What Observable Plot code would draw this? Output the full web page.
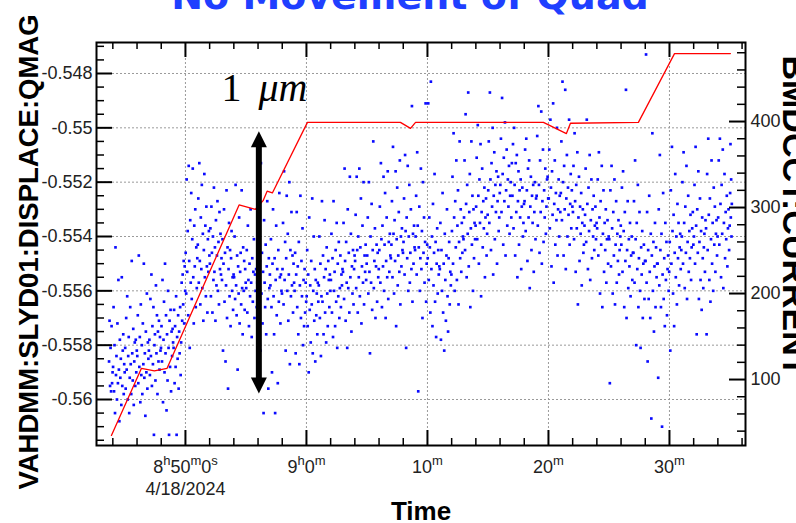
<!DOCTYPE html>
<html><head><meta charset="utf-8">
<script src="https://cdn.jsdelivr.net/npm/d3@7"></script>
<script src="https://cdn.jsdelivr.net/npm/@observablehq/plot@0.6"></script>
<style>
body{margin:0;background:#fff;}
#chart{position:relative;width:796px;height:523px;overflow:hidden;background:#fff;}
</style></head><body><div id="chart"></div>
<script>
// ---------- data ----------
const day = "2024-04-18";
const chartTitle = "No Movement of Quad";
const leftLabel = "VAHDMM:SLYD01:DISPLACE:QMAG";
const rightLabel = "BMDCCT:CURRENT";
const xLabel = "Time";
const dateLabel = "4/18/2024";
const timeDomain = ["08:42:39", "09:36:17"];
const qmagDomain = [-0.561693, -0.546859];
const currentDomain = [23.3, 491.9];
const qmagTicks = [-0.56, -0.558, -0.556, -0.554, -0.552, -0.55, -0.548];
const currentTicks = [100, 200, 300, 400];
const timeTickTimes = ["08:50:00", "09:00:00", "09:10:00", "09:20:00", "09:30:00"];
const timeTickLabels = ["8h50m0s", "9h0m", "10m", "20m", "30m"];

// BMDCCT:CURRENT (right axis), red line
const currentTimes = ["08:43:53","08:46:22","08:47:26","08:48:29","08:54:26","08:55:47","08:56:25","08:56:45","08:57:11","09:00:05","09:07:46","09:08:36","09:09:01","09:19:35","09:21:29","09:21:49","09:27:26","09:30:25","09:35:02"];
const currentValues = [35,113,110,113,303,298,308,319,317,399,399,392,399,399,386,398,399,479,479];

// VAHDMM:SLYD01:DISPLACE:QMAG samples, one list per minute starting 08:43
const scatterStart = "08:43:40", scatterEnd = "09:35:10", firstMinute = "08:43:00";
const qmagByMinute = [
[-0.5586,-0.5571,-0.5595,-0.5581,-0.5597,-0.5573,-0.5594,-0.5590],
[-0.5588,-0.5566,-0.5597,-0.5580,-0.5605,-0.5544,-0.5591,-0.5584,-0.5600,-0.5572,-0.5594,-0.5556,-0.5589,-0.5608,-0.5578,-0.5592,-0.5585,-0.5602,-0.5555,-0.5595,-0.5582,-0.5576,-0.5598,-0.5587,-0.5590],
[-0.5581,-0.5596,-0.5570,-0.5589,-0.5562,-0.5600,-0.5584,-0.5577,-0.5605,-0.5592,-0.5566,-0.5587,-0.5598,-0.5549,-0.5583,-0.5593,-0.5574,-0.5602,-0.5586,-0.5579,-0.5595,-0.5578,-0.5590,-0.5582],
[-0.5584,-0.5569,-0.5594,-0.5547,-0.5588,-0.5577,-0.5601,-0.5565,-0.5591,-0.5580,-0.5598,-0.5572,-0.5587,-0.5550,-0.5592,-0.5583,-0.5606,-0.5575,-0.5590,-0.5561,-0.5596,-0.5579,-0.5585,-0.5582],
[-0.5578,-0.5591,-0.5563,-0.5584,-0.5554,-0.5595,-0.5573,-0.5587,-0.5566,-0.5613,-0.5580,-0.5576,-0.5593,-0.5558,-0.5583,-0.5569,-0.5598,-0.5575,-0.5586,-0.5571,-0.5589,-0.5577,-0.5582,-0.5581],
[-0.5573,-0.5586,-0.5556,-0.5601,-0.5578,-0.5564,-0.5590,-0.5550,-0.5583,-0.5569,-0.5604,-0.5576,-0.5593,-0.5560,-0.5581,-0.5613,-0.5571,-0.5588,-0.5567,-0.5597,-0.5575,-0.5584,-0.5574,-0.5579],
[-0.5581,-0.5567,-0.5594,-0.5573,-0.5588,-0.5562,-0.5613,-0.5577,-0.5585,-0.5569,-0.5596,-0.5575,-0.5583,-0.5566,-0.5591,-0.5579,-0.5557,-0.5571,-0.5554,-0.5565,-0.5549,-0.5572,-0.5551,-0.5560],
[-0.5546,-0.5561,-0.5519,-0.5553,-0.5538,-0.5569,-0.5514,-0.5549,-0.5581,-0.5534,-0.5557,-0.5524,-0.5563,-0.5541,-0.5515,-0.5555,-0.5572,-0.5536,-0.5551,-0.5530,-0.5566,-0.5544,-0.5559,-0.5548],
[-0.5543,-0.5526,-0.5557,-0.5513,-0.5549,-0.5565,-0.5533,-0.5552,-0.5521,-0.5559,-0.5539,-0.5571,-0.5545,-0.5517,-0.5555,-0.5536,-0.5562,-0.5529,-0.5551,-0.5568,-0.5541,-0.5553,-0.5538,-0.5547],
[-0.5550,-0.5537,-0.5562,-0.5529,-0.5546,-0.5568,-0.5540,-0.5556,-0.5522,-0.5553,-0.5544,-0.5571,-0.5534,-0.5558,-0.5547,-0.5527,-0.5560,-0.5542,-0.5565,-0.5531,-0.5552,-0.5539,-0.5554,-0.5548],
[-0.5556,-0.5541,-0.5582,-0.5550,-0.5530,-0.5564,-0.5546,-0.5586,-0.5558,-0.5523,-0.5570,-0.5544,-0.5596,-0.5552,-0.5535,-0.5562,-0.5545,-0.5573,-0.5548,-0.5538,-0.5560,-0.5555,-0.5567,-0.5554],
[-0.5555,-0.5540,-0.5563,-0.5521,-0.5558,-0.5569,-0.5547,-0.5589,-0.5551,-0.5561,-0.5533,-0.5572,-0.5553,-0.5546,-0.5565,-0.5523,-0.5559,-0.5576,-0.5544,-0.5560,-0.5549,-0.5567,-0.5552,-0.5557],
[-0.5559,-0.5545,-0.5568,-0.5536,-0.5556,-0.5573,-0.5550,-0.5562,-0.5530,-0.5557,-0.5577,-0.5548,-0.5564,-0.5553,-0.5541,-0.5570,-0.5554,-0.5560,-0.5552,-0.5566,-0.5557,-0.5563],
[-0.5555,-0.5539,-0.5569,-0.5549,-0.5582,-0.5513,-0.5561,-0.5546,-0.5572,-0.5553,-0.5605,-0.5534,-0.5557,-0.5566,-0.5543,-0.5576,-0.5551,-0.5527,-0.5563,-0.5596,-0.5548,-0.5559,-0.5554],
[-0.5558,-0.5541,-0.5566,-0.5590,-0.5550,-0.5530,-0.5562,-0.5576,-0.5548,-0.5605,-0.5556,-0.5536,-0.5569,-0.5552,-0.5594,-0.5545,-0.5564,-0.5524,-0.5555,-0.5572,-0.5554,-0.5560,-0.5561],
[-0.5552,-0.5535,-0.5565,-0.5516,-0.5556,-0.5542,-0.5582,-0.5548,-0.5525,-0.5560,-0.5539,-0.5571,-0.5554,-0.5520,-0.5587,-0.5545,-0.5562,-0.5531,-0.5558,-0.5547,-0.5568,-0.5550,-0.5557],
[-0.5560,-0.5546,-0.5583,-0.5554,-0.5531,-0.5566,-0.5551,-0.5576,-0.5542,-0.5587,-0.5558,-0.5525,-0.5570,-0.5549,-0.5562,-0.5537,-0.5580,-0.5556,-0.5573,-0.5552,-0.5568,-0.5557,-0.5564],
[-0.5562,-0.5545,-0.5573,-0.5554,-0.5590,-0.5533,-0.5567,-0.5558,-0.5579,-0.5549,-0.5565,-0.5526,-0.5583,-0.5560,-0.5540,-0.5571,-0.5552,-0.5586,-0.5556,-0.5569,-0.5561,-0.5576,-0.5557,-0.5564],
[-0.5558,-0.5540,-0.5570,-0.5550,-0.5584,-0.5562,-0.5527,-0.5564,-0.5547,-0.5576,-0.5555,-0.5534,-0.5568,-0.5552,-0.5579,-0.5544,-0.5561,-0.5573,-0.5549,-0.5556,-0.5566,-0.5554,-0.5560],
[-0.5556,-0.5539,-0.5568,-0.5548,-0.5577,-0.5527,-0.5560,-0.5553,-0.5573,-0.5545,-0.5564,-0.5535,-0.5581,-0.5550,-0.5562,-0.5542,-0.5570,-0.5559,-0.5547,-0.5566,-0.5554,-0.5558,-0.5552],
[-0.5553,-0.5535,-0.5563,-0.5515,-0.5549,-0.5571,-0.5542,-0.5557,-0.5581,-0.5530,-0.5559,-0.5546,-0.5568,-0.5518,-0.5555,-0.5539,-0.5575,-0.5551,-0.5561,-0.5545,-0.5565,-0.5552,-0.5547],
[-0.5549,-0.5532,-0.5559,-0.5518,-0.5545,-0.5568,-0.5540,-0.5555,-0.5515,-0.5562,-0.5544,-0.5526,-0.5572,-0.5551,-0.5536,-0.5557,-0.5520,-0.5565,-0.5547,-0.5553,-0.5543,-0.5556,-0.5550],
[-0.5547,-0.5533,-0.5561,-0.5520,-0.5553,-0.5583,-0.5540,-0.5557,-0.5528,-0.5567,-0.5545,-0.5505,-0.5559,-0.5549,-0.5537,-0.5570,-0.5551,-0.5543,-0.5564,-0.5546,-0.5555,-0.5552],
[-0.5545,-0.5529,-0.5557,-0.5513,-0.5541,-0.5566,-0.5536,-0.5551,-0.5518,-0.5560,-0.5543,-0.5524,-0.5570,-0.5549,-0.5533,-0.5555,-0.5516,-0.5563,-0.5542,-0.5553,-0.5539,-0.5547,-0.5548],
[-0.5543,-0.5527,-0.5555,-0.5507,-0.5539,-0.5561,-0.5534,-0.5549,-0.5516,-0.5573,-0.5541,-0.5522,-0.5558,-0.5547,-0.5531,-0.5553,-0.5512,-0.5565,-0.5540,-0.5551,-0.5537,-0.5545,-0.5546],
[-0.5542,-0.5526,-0.5554,-0.5510,-0.5538,-0.5581,-0.5533,-0.5548,-0.5514,-0.5560,-0.5540,-0.5521,-0.5557,-0.5546,-0.5530,-0.5552,-0.5492,-0.5564,-0.5539,-0.5550,-0.5536,-0.5544,-0.5545],
[-0.5540,-0.5525,-0.5554,-0.5509,-0.5536,-0.5597,-0.5544,-0.5529,-0.5560,-0.5548,-0.5515,-0.5552,-0.5538,-0.5570,-0.5520,-0.5546,-0.5533,-0.5557,-0.5542,-0.5491,-0.5564,-0.5550,-0.5543],
[-0.5548,-0.5491,-0.5556,-0.5533,-0.5544,-0.5568,-0.5483,-0.5552,-0.5540,-0.5573,-0.5528,-0.5558,-0.5546,-0.5517,-0.5564,-0.5542,-0.5577,-0.5550,-0.5537,-0.5561,-0.5545,-0.5554,-0.5551],
[-0.5552,-0.5535,-0.5578,-0.5545,-0.5560,-0.5524,-0.5568,-0.5550,-0.5582,-0.5539,-0.5556,-0.5571,-0.5547,-0.5530,-0.5562,-0.5575,-0.5548,-0.5542,-0.5565,-0.5553,-0.5558,-0.5554],
[-0.5538,-0.5518,-0.5550,-0.5502,-0.5533,-0.5560,-0.5527,-0.5544,-0.5512,-0.5556,-0.5536,-0.5523,-0.5565,-0.5542,-0.5505,-0.5548,-0.5530,-0.5553,-0.5535,-0.5546,-0.5540,-0.5541],
[-0.5533,-0.5512,-0.5545,-0.5495,-0.5528,-0.5555,-0.5521,-0.5539,-0.5487,-0.5551,-0.5531,-0.5517,-0.5566,-0.5537,-0.5505,-0.5543,-0.5525,-0.5560,-0.5530,-0.5548,-0.5535,-0.5541,-0.5536],
[-0.5529,-0.5511,-0.5541,-0.5499,-0.5525,-0.5550,-0.5519,-0.5535,-0.5506,-0.5562,-0.5531,-0.5515,-0.5544,-0.5527,-0.5537,-0.5522,-0.5555,-0.5533,-0.5526,-0.5547,-0.5539,-0.5532],
[-0.5523,-0.5505,-0.5535,-0.5487,-0.5519,-0.5545,-0.5513,-0.5529,-0.5500,-0.5554,-0.5525,-0.5509,-0.5541,-0.5521,-0.5531,-0.5516,-0.5550,-0.5527,-0.5518,-0.5538,-0.5533,-0.5524],
[-0.5521,-0.5504,-0.5531,-0.5489,-0.5517,-0.5543,-0.5511,-0.5527,-0.5498,-0.5547,-0.5523,-0.5508,-0.5536,-0.5519,-0.5529,-0.5514,-0.5539,-0.5525,-0.5520,-0.5533,-0.5513],
[-0.5525,-0.5506,-0.5537,-0.5500,-0.5521,-0.5547,-0.5513,-0.5531,-0.5510,-0.5555,-0.5527,-0.5516,-0.5543,-0.5523,-0.5533,-0.5519,-0.5552,-0.5529,-0.5522,-0.5540,-0.5535,-0.5528],
[-0.5527,-0.5508,-0.5538,-0.5504,-0.5523,-0.5549,-0.5515,-0.5533,-0.5512,-0.5559,-0.5529,-0.5518,-0.5545,-0.5525,-0.5535,-0.5521,-0.5553,-0.5531,-0.5520,-0.5541,-0.5526],
[-0.5525,-0.5503,-0.5536,-0.5492,-0.5521,-0.5546,-0.5512,-0.5531,-0.5494,-0.5550,-0.5527,-0.5508,-0.5542,-0.5523,-0.5533,-0.5515,-0.5539,-0.5529,-0.5519,-0.5518,-0.5526],
[-0.5526,-0.5508,-0.5537,-0.5497,-0.5522,-0.5551,-0.5516,-0.5532,-0.5491,-0.5557,-0.5528,-0.5512,-0.5543,-0.5524,-0.5534,-0.5500,-0.5547,-0.5530,-0.5519,-0.5540,-0.5525,-0.5531],
[-0.5524,-0.5505,-0.5534,-0.5483,-0.5520,-0.5547,-0.5514,-0.5530,-0.5486,-0.5552,-0.5526,-0.5510,-0.5540,-0.5522,-0.5532,-0.5497,-0.5543,-0.5528,-0.5517,-0.5537,-0.5523,-0.5529],
[-0.5531,-0.5514,-0.5541,-0.5502,-0.5527,-0.5553,-0.5521,-0.5537,-0.5509,-0.5565,-0.5533,-0.5518,-0.5549,-0.5529,-0.5539,-0.5524,-0.5558,-0.5535,-0.5530,-0.5546,-0.5543,-0.5536],
[-0.5532,-0.5515,-0.5542,-0.5497,-0.5528,-0.5552,-0.5522,-0.5538,-0.5510,-0.5556,-0.5534,-0.5519,-0.5548,-0.5530,-0.5540,-0.5525,-0.5545,-0.5536,-0.5529,-0.5541,-0.5535],
[-0.5537,-0.5519,-0.5547,-0.5509,-0.5533,-0.5561,-0.5527,-0.5543,-0.5514,-0.5566,-0.5539,-0.5523,-0.5553,-0.5535,-0.5545,-0.5530,-0.5557,-0.5541,-0.5534,-0.5550,-0.5540],
[-0.5541,-0.5594,-0.5523,-0.5551,-0.5514,-0.5537,-0.5561,-0.5531,-0.5547,-0.5519,-0.5565,-0.5543,-0.5527,-0.5557,-0.5539,-0.5549,-0.5534,-0.5554,-0.5545,-0.5540,-0.5536],
[-0.5543,-0.5522,-0.5553,-0.5516,-0.5538,-0.5566,-0.5531,-0.5549,-0.5486,-0.5570,-0.5545,-0.5527,-0.5559,-0.5541,-0.5551,-0.5535,-0.5562,-0.5547,-0.5540,-0.5556,-0.5546],
[-0.5546,-0.5527,-0.5557,-0.5512,-0.5541,-0.5580,-0.5535,-0.5552,-0.5521,-0.5566,-0.5548,-0.5531,-0.5560,-0.5581,-0.5544,-0.5554,-0.5538,-0.5570,-0.5550,-0.5543,-0.5563,-0.5549],
[-0.5549,-0.5473,-0.5557,-0.5531,-0.5586,-0.5545,-0.5563,-0.5525,-0.5553,-0.5570,-0.5539,-0.5607,-0.5547,-0.5502,-0.5560,-0.5542,-0.5575,-0.5551,-0.5535,-0.5566,-0.5544,-0.5555,-0.5550],
[-0.5550,-0.5592,-0.5530,-0.5558,-0.5510,-0.5545,-0.5566,-0.5539,-0.5610,-0.5554,-0.5524,-0.5563,-0.5548,-0.5573,-0.5535,-0.5556,-0.5542,-0.5569,-0.5552,-0.5547,-0.5560,-0.5553],
[-0.5542,-0.5582,-0.5523,-0.5550,-0.5507,-0.5538,-0.5561,-0.5532,-0.5573,-0.5546,-0.5517,-0.5555,-0.5540,-0.5565,-0.5528,-0.5548,-0.5535,-0.5558,-0.5544,-0.5539,-0.5552,-0.5545],
[-0.5540,-0.5520,-0.5550,-0.5509,-0.5535,-0.5559,-0.5529,-0.5546,-0.5514,-0.5563,-0.5542,-0.5525,-0.5553,-0.5538,-0.5548,-0.5532,-0.5556,-0.5544,-0.5537,-0.5531,-0.5543],
[-0.5540,-0.5521,-0.5550,-0.5507,-0.5536,-0.5576,-0.5530,-0.5546,-0.5516,-0.5563,-0.5542,-0.5526,-0.5556,-0.5538,-0.5567,-0.5533,-0.5548,-0.5559,-0.5544,-0.5539,-0.5553,-0.5534],
[-0.5537,-0.5576,-0.5517,-0.5545,-0.5504,-0.5532,-0.5556,-0.5526,-0.5564,-0.5541,-0.5512,-0.5550,-0.5535,-0.5560,-0.5522,-0.5543,-0.5529,-0.5553,-0.5539,-0.5534,-0.5547,-0.5540],
[-0.5533,-0.5512,-0.5543,-0.5504,-0.5528,-0.5555,-0.5521,-0.5539,-0.5508,-0.5559,-0.5535,-0.5517,-0.5548,-0.5531,-0.5541,-0.5525,-0.5551,-0.5537,-0.5530,-0.5545,-0.5536],
[-0.5524,-0.5506,-0.5533,-0.5519,-0.5540,-0.5528]
];

// annotation: double arrow spanning 1 um
const arrowTime = "08:56:04";
const arrowEnds = [-0.55013, -0.55978];
const annotationNumber = "1";
const annotationUnit = "\u03bcm";

// ---------- build ----------
const T = s => new Date(`${day}T${s}`);
const W = 796, H = 523, mL = 96, mR = 51, mT = 42, mB = 78;
const pw = W - mL - mR, ph = H - mT - mB;
const toLeft = d3.scaleLinear(currentDomain, qmagDomain);

const points = [];
const s0 = +T(scatterStart), s1 = +T(scatterEnd), m0 = +T(firstMinute);
qmagByMinute.forEach((vals, k) => {
  const a = Math.max(m0 + k * 60000, s0), b = Math.min(m0 + (k + 1) * 60000, s1);
  vals.forEach((v, i) => points.push({t: new Date(a + (i + 0.5) * (b - a) / vals.length), v}));
});
const current = currentTimes.map((s, i) => ({t: T(s), c: currentValues[i]}));

const timeTicks = timeTickTimes.map(T);
const timeMinor = d3.range(44, 97, 2).filter(m => m % 10).map(m => new Date(+T("08:00:00") + m * 60000));
const qmagMinor = d3.range(0, 30).map(i => -0.5615 + i * 0.0005)
  .filter(v => Math.abs(v / 0.002 - Math.round(v / 0.002)) > 1e-6);
const curMinor = d3.range(40, 500, 20).filter(v => v % 100);
const curTicksL = currentTicks.map(toLeft);

const headUp = {draw(c) { c.moveTo(0, 0); c.lineTo(8, 16); c.lineTo(-8, 16); c.closePath(); }};
const headDown = {draw(c) { c.moveTo(0, 0); c.lineTo(8, -16); c.lineTo(-8, -16); c.closePath(); }};
const arrowT = T(arrowTime);

const tickStyle = {stroke: "black", strokeWidth: 2};
const minorStyle = {stroke: "black", strokeWidth: 1.5};
const gridStyle = {stroke: "#9a9a9a", strokeDasharray: "2,2", strokeWidth: 1};
const labelFont = {fontSize: 18, fill: "#222", fontFamily: "'Liberation Sans', Arial, sans-serif"};

const chart = Plot.plot({
  width: W, height: H,
  marginLeft: mL, marginRight: mR, marginTop: mT, marginBottom: mB,
  x: {type: "time", domain: timeDomain.map(T), label: null, axis: null},
  y: {domain: qmagDomain, label: null, axis: null},
  style: {fontFamily: "'Liberation Sans', Arial, sans-serif", fontSize: "18px", background: "white", overflow: "hidden"},
  marks: [
    Plot.ruleY(qmagTicks, gridStyle),
    Plot.ruleX(timeTicks, gridStyle),
    Plot.dot(points, {x: "t", y: "v", r: 1.5, symbol: "square", fill: "#0a0aff", stroke: null}),
    Plot.line(current, {x: "t", y: d => toLeft(d.c), stroke: "#ff0000", strokeWidth: 1.3}),
    Plot.ruleX([arrowT], {y1: arrowEnds[0] - 0.0004, y2: arrowEnds[1] + 0.0004, stroke: "black", strokeWidth: 6}),
    Plot.dot([arrowT], {x: d => d, y: arrowEnds[0], symbol: headUp, fill: "black", stroke: null}),
    Plot.dot([arrowT], {x: d => d, y: arrowEnds[1], symbol: headDown, fill: "black", stroke: null}),
    Plot.text([annotationNumber], {text: d => d, frameAnchor: "top-left", dx: 135, dy: 58, textAnchor: "middle", lineAnchor: "bottom", fontSize: 40, fontFamily: "'Liberation Serif', serif", fill: "black"}),
    Plot.text([annotationUnit], {text: d => d, frameAnchor: "top-left", dx: 162, dy: 58, textAnchor: "start", lineAnchor: "bottom", fontSize: 40, fontStyle: "italic", fontFamily: "'Liberation Serif', serif", fill: "black"}),
    // inward ticks
    Plot.tickY(qmagTicks, {...tickStyle, insetRight: pw - 16}),
    Plot.tickY(qmagMinor, {...minorStyle, insetRight: pw - 8}),
    Plot.tickY(curTicksL, {...tickStyle, insetLeft: pw - 16}),
    Plot.tickY(curMinor.map(toLeft), {...minorStyle, insetLeft: pw - 8}),
    Plot.tickX(timeTicks, {...tickStyle, insetTop: ph - 15}),
    Plot.tickX(timeMinor, {...minorStyle, insetTop: ph - 7}),
    Plot.tickX(timeTicks, {...tickStyle, insetBottom: ph - 15}),
    Plot.tickX(timeMinor, {...minorStyle, insetBottom: ph - 7}),
    Plot.frame({stroke: "black", strokeWidth: 2}),
    // tick labels, placed through the scales
    Plot.text(qmagTicks, {y: d => d, text: d => `${+d.toFixed(3)}`, frameAnchor: "left", dx: -4, textAnchor: "end", lineAnchor: "middle", ...labelFont}),
    Plot.text(currentTicks, {y: d => toLeft(d), text: d => `${d}`, frameAnchor: "right", dx: 5, textAnchor: "start", lineAnchor: "middle", ...labelFont}),
    Plot.text(timeTicks, {x: d => d, text: (d, i) => timeTickLabels[i], frameAnchor: "bottom", dy: 15, textAnchor: "middle", lineAnchor: "top", className: "time-tick-label", ...labelFont}),
    Plot.text([dateLabel], {x: [timeTicks[0]], text: d => d, frameAnchor: "bottom", dy: 44, textAnchor: "middle", lineAnchor: "middle", ...labelFont}),
    // titles
    Plot.text([xLabel], {text: d => d, frameAnchor: "bottom", dy: 74, lineAnchor: "bottom", textAnchor: "middle", fontSize: 26, fontWeight: "bold", fill: "black"}),
    Plot.text([leftLabel], {text: d => d, frameAnchor: "left", dx: -59, dy: 8, rotate: -90, textAnchor: "middle", lineAnchor: "bottom", fontSize: 27.5, fontWeight: "bold", fill: "black"}),
    Plot.text([rightLabel], {text: d => d, frameAnchor: "right", dx: 37, dy: -28, rotate: 90, textAnchor: "middle", lineAnchor: "bottom", fontSize: 34, fontWeight: "bold", fill: "black"}),
    Plot.text([chartTitle], {text: d => d, frameAnchor: "top", dx: -11, dy: -34, lineAnchor: "bottom", textAnchor: "middle", fontSize: 38, fontWeight: "bold", fontFamily: "'DejaVu Sans', Verdana, sans-serif", fill: "#1f3fff"})
  ]
});

// superscript h/m/s in time tick labels
const NS = "http://www.w3.org/2000/svg";
chart.querySelectorAll('.time-tick-label text').forEach(t => {
  const parts = (t.textContent || "").match(/\d+|[hms]/g) || [];
  t.textContent = "";
  let sup = false;
  for (const p of parts) {
    const ts = document.createElementNS(NS, "tspan");
    ts.textContent = p;
    if (/[hms]/.test(p)) { ts.setAttribute("font-size", "13"); if (!sup) ts.setAttribute("dy", "-8"); sup = true; }
    else { if (sup) ts.setAttribute("dy", "8"); sup = false; }
    t.appendChild(ts);
  }
});

document.getElementById("chart").appendChild(chart);
</script>
</body></html>
